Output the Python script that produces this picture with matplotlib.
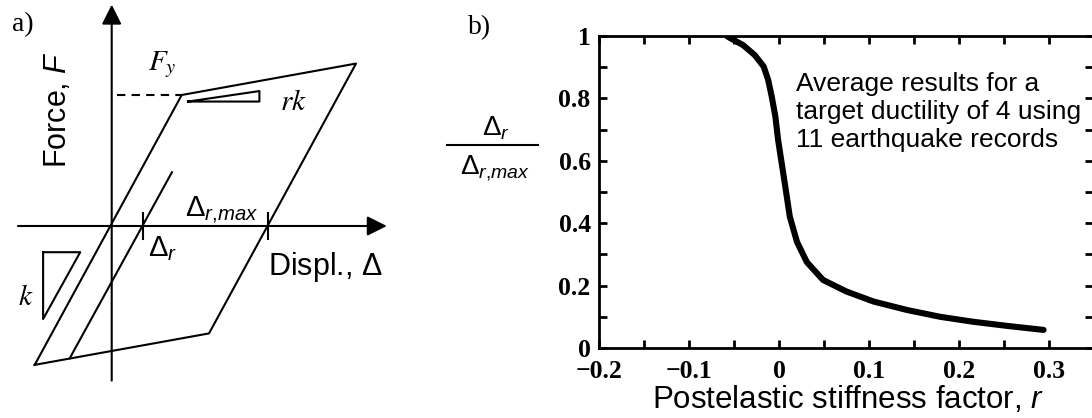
import numpy as np
import matplotlib
matplotlib.use("Agg")
import matplotlib.pyplot as plt
from matplotlib.lines import Line2D
from matplotlib.ticker import MultipleLocator, FixedLocator, FixedFormatter

plt.rcParams["mathtext.fontset"] = "custom"
plt.rcParams["mathtext.rm"] = "Liberation Sans"
plt.rcParams["mathtext.it"] = "Liberation Sans:italic"
plt.rcParams["mathtext.bf"] = "Liberation Sans:bold"

# ---- panel a: schematic hysteresis (units: yield displ. = 1, Fy = 1)
loop_d = [-1.10, 1.00, 3.49, 1.39, -1.10]
loop_f = [-1.06, 1.00, 1.24, -0.82, -1.06]
reload_d = [-0.60, 0.86]
reload_f = [-1.01, 0.41]
k_tri_d = [-0.98, -0.45, -0.98, -0.98]
k_tri_f = [-0.20, -0.20, -0.71, -0.20]
rk_tri_d = [1.09, 2.11, 2.11, 1.09]
rk_tri_f = [0.95, 1.03, 0.95, 0.95]
dr = 0.44
dr_max = 2.23

# ---- panel b: average curve
r = [-0.058, -0.054, -0.040, -0.027, -0.017, -0.012, -0.008, -0.004, -0.001,
     0.003, 0.007, 0.012, 0.020, 0.031, 0.049, 0.075, 0.105, 0.142, 0.179,
     0.216, 0.253, 0.294]
ratio = [1.0, 0.993, 0.971, 0.939, 0.902, 0.859, 0.805, 0.741, 0.667,
         0.592, 0.517, 0.421, 0.340, 0.275, 0.218, 0.181, 0.149, 0.122, 0.100,
         0.084, 0.071, 0.058]

W, H = 1092, 418
fig = plt.figure(figsize=(W / 100, H / 100), dpi=100)

# panel a axes: origin at pixel (111.7, 226), 70 px per displ unit, 131 px per force unit
ax = fig.add_axes([0, 0, 400 / W, 1])
ax.set_xlim((0 - 111.7) / 70, (400 - 111.7) / 70)
ax.set_ylim((226 - 418) / 131, 226 / 131)
ax.axis("off")

lw = 1.5
arr = dict(arrowstyle="-|>", mutation_scale=30, lw=lw, color="k", shrinkA=0, shrinkB=0)
ax.annotate("", xy=(3.93, 0), xytext=(-1.34, 0), arrowprops=arr)
ax.annotate("", xy=(0, 1.69), xytext=(0, -1.18), arrowprops=arr)

ax.plot(loop_d, loop_f, color="k", lw=lw)
ax.plot(reload_d, reload_f, color="k", lw=lw)
ax.plot(k_tri_d, k_tri_f, color="k", lw=lw)
ax.plot(rk_tri_d, rk_tri_f, color="k", lw=lw)
ax.plot([0.07, loop_d[1]], [loop_f[1], loop_f[1]], color="k", lw=lw, ls=(0, (4, 3)))
for xv in [dr, dr_max]:
    ax.plot([xv, xv], [-0.1, 0.1], color="k", lw=lw)

ser = "Liberation Serif"
sans = "Liberation Sans"
ax.text(-1.43, 1.54, "a)", fontsize=20, family=ser, va="center", ha="left")
ax.text(-0.76, 0.89, "Force, $\\mathit{F}$", fontsize=22, family=sans, rotation=90,
        va="center", ha="center")
ax.text(0.52, 1.23, "$F_y$", fontsize=21, family=ser, va="center", ha="left",
        math_fontfamily="stix")
ax.text(2.40, 0.94, "$rk$", fontsize=21, family=ser, va="center", ha="left",
        math_fontfamily="stix")
ax.text(-1.34, -0.55, "$k$", fontsize=21, family=ser, va="center", ha="left",
        math_fontfamily="stix")
ax.text(1.05, 0.12, "$\\Delta_{r{,}max}$", fontsize=21, va="center", ha="left")
ax.text(0.52, -0.17, "$\\Delta_{r}$", fontsize=21, va="center", ha="left")
ax.text(2.23, -0.31, "Displ., $\\mathrm{\\Delta}$", fontsize=22, family=sans,
        va="center", ha="left")

# panel b axes
left, right, top, bottom = 599, 1093, 36, 348
bx = fig.add_axes([left / W, (H - bottom) / H, (right - left) / W, (bottom - top) / H])
bx.set_xlim(-0.2, (right - 779) / 900)
bx.set_ylim(0, 1)
bx.plot(r, ratio, color="k", lw=4.4, solid_capstyle="round", solid_joinstyle="round")

for s in bx.spines.values():
    s.set_linewidth(2.0)
bx.spines["right"].set_visible(False)

xt = [-0.2, -0.1, 0, 0.1, 0.2, 0.3]
xl = ["\u22120.2", "\u22120.1", "0", "0.1", "0.2", "0.3"]
yt = [0, 0.2, 0.4, 0.6, 0.8, 1.0]
yl = ["0", "0.2", "0.4", "0.6", "0.8", "1"]
bx.xaxis.set_major_locator(FixedLocator(xt))
bx.xaxis.set_major_formatter(FixedFormatter(xl))
bx.xaxis.set_minor_locator(MultipleLocator(0.05))
bx.yaxis.set_major_locator(FixedLocator(yt))
bx.yaxis.set_major_formatter(FixedFormatter(yl))
bx.yaxis.set_minor_locator(MultipleLocator(0.1))
bx.tick_params(which="both", direction="in", top=True, right=True, length=6,
               width=2.0)
bx.tick_params(axis="x", pad=9)
bx.tick_params(axis="y", pad=6)
for lab in bx.get_xticklabels() + bx.get_yticklabels():
    lab.set_family(ser)
    lab.set_fontweight("bold")
    lab.set_fontsize(18.5)

bx.text(0.019, 0.885, "Average results for a\ntarget ductility of 4 using\n11 earthquake records",
        fontsize=19, family=sans, va="top", ha="left", linespacing=1.22)

# y label as a stacked fraction
fig.text(496 / W, 1 - 128 / H, "$\\Delta_{r}$", fontsize=20, ha="center", va="center")
fig.add_artist(Line2D([447 / W, 538 / W], [1 - 145 / H, 1 - 145 / H], color="k", lw=1.5))
fig.text(495 / W, 1 - 168 / H, "$\\Delta_{r{,}max}$", fontsize=20, ha="center", va="center")

fig.text(480 / W, 1 - 28 / H, "b)", fontsize=20, family=ser, ha="center", va="center")
fig.text(848 / W, 1 - 399 / H, "Postelastic stiffness factor, $\\mathit{r}$", fontsize=22.5,
         family=sans, ha="center", va="center")

fig.savefig("out.png", dpi=100)
